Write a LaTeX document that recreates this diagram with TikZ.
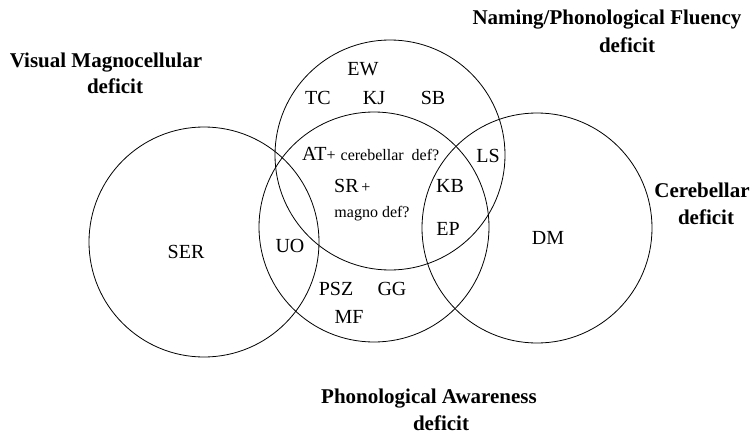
\documentclass[tikz,border=0pt]{standalone}
\usepackage{fontspec}
\setmainfont{Liberation Serif}
\tikzset{
  deficit/.style={draw, circle, minimum size=230pt, inner sep=0pt, line width=0.8pt},
  subj/.style={anchor=base, inner sep=0pt, font=\fontsize{20}{22}\selectfont},
  note/.style={anchor=base, inner sep=0pt, font=\fontsize{16}{18}\selectfont},
  heading/.style={anchor=base, inner sep=0pt, font=\bfseries\fontsize{21}{23}\selectfont},
}
\begin{document}
\begin{tikzpicture}[x=1pt, y=-1pt]
    \useasboundingbox (0,0) rectangle (753,436);

    % the four deficits
    \node[deficit] (magno) at (204,242) {};
    \node[deficit] (naming) at (390,155) {};
    \node[deficit] (phon) at (374,227) {};
    \node[deficit] (cereb) at (537,228) {};

    % headings
    \node[heading] (namingA) at (607,25) {Naming/Phonological Fluency};
    \node[heading] (namingB) at (627,53) {deficit};
    \node[heading] (magnoA) at (106,67) {Visual Magnocellular};
    \node[heading] (magnoB) at (115,94) {deficit};
    \node[heading] (cerebA) at (702,197) {Cerebellar};
    \node[heading] (cerebB) at (706,224) {deficit};
    \node[heading] (phonA) at (429,403) {Phonological Awareness};
    \node[heading] (phonB) at (441,430) {deficit};

    % subjects
    \node[subj] (ew) at (363,76) {EW};
    \node[subj] (tc) at (318,105) {TC};
    \node[subj] (kj) at (374,105) {KJ};
    \node[subj] (sb) at (433,105) {SB};
    \node[subj, anchor=base west] (at) at (302,160)
        {AT{\fontsize{16}{18}\selectfont+} {\fontsize{16}{18}\selectfont cerebellar\ \ def?}};
    \node[subj] (ls) at (488,162) {LS};
    \node[subj, anchor=base west] (sr) at (334,192) {SR{\fontsize{16}{18}\selectfont\,+}};
    \node[subj] (kb) at (450,192) {KB};
    \node[note] (mdef) at (372,217) {magno def?};
    \node[subj] (ep) at (448,235) {EP};
    \node[subj] (uo) at (290,252) {UO};
    \node[subj] (ser) at (186,258) {SER};
    \node[subj] (dm) at (548,244) {DM};
    \node[subj] (psz) at (336,295) {PSZ};
    \node[subj] (gg) at (392,295) {GG};
    \node[subj] (mf) at (349,323) {MF};
\end{tikzpicture}
\end{document}
